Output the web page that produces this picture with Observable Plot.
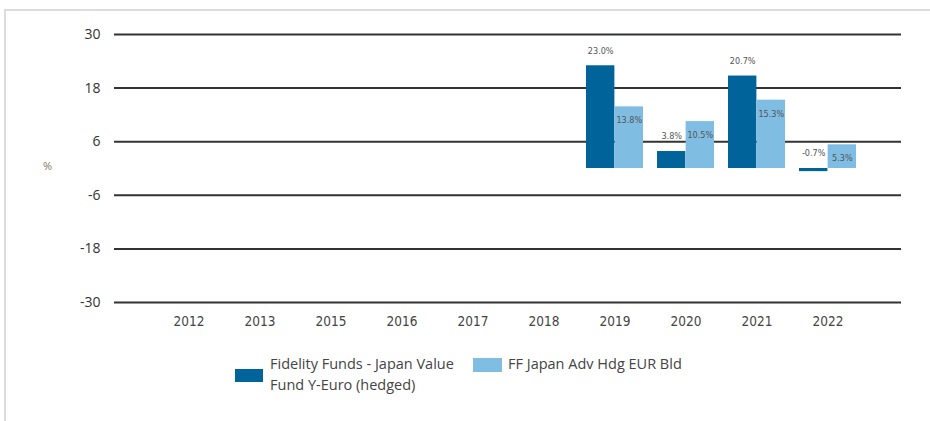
<!DOCTYPE html>
<html><head><meta charset="utf-8">
<script src="https://cdn.jsdelivr.net/npm/d3@7"></script>
<script src="https://cdn.jsdelivr.net/npm/@observablehq/plot@0.6"></script>
<style>
html,body{margin:0;padding:0;background:#fff}
body{width:930px;height:421px;overflow:hidden;position:relative;font-family:"Open Sans",sans-serif}
#frame{position:absolute;left:4px;top:9px;right:0;bottom:0;border-top:2px solid #dcdcdc;border-left:2px solid #dcdcdc}
#chart{position:absolute;left:0;top:0}
#unit{position:absolute;left:43px;top:158px;font-size:11px;color:#8a7468}
.lg{position:absolute;font-size:14.5px;color:#444;line-height:21px}
.sw{position:absolute}
</style></head>
<body>
<div id="frame"></div>
<div id="chart"></div>
<div id="unit">%</div>
<div id="legend"></div>
<script>
const years = ["2012","2013","2015","2016","2017","2018","2019","2020","2021","2022"];
const fundValues = [null,null,null,null,null,null,23.0,3.8,20.7,-0.7];
const indexValues = [null,null,null,null,null,null,13.8,10.5,15.3,5.3];
const seriesNames = ["Fidelity Funds - Japan Value Fund Y-Euro (hedged)", "FF Japan Adv Hdg EUR Bld"];
const seriesColors = ["#00639a", "#7fbde2"];
const yTicks = [30, 18, 6, -6, -18, -30];

const W = 930, H = 340, ML = 114, MR = 29, MT = 34, MB = 38;
const pIn = 0.2, pOut = 0.6;
const step = (W - ML - MR) / (years.length - pIn + 2 * pOut);
const half = step * (1 - pIn) / 2;

const fund = years.map((y, i) => ({year: y, value: fundValues[i]})).filter(d => d.value != null);
const idx = years.map((y, i) => ({year: y, value: indexValues[i]})).filter(d => d.value != null);
const fmt = d => d.value.toFixed(1) + "%";
const lblFont = '"Liberation Sans Narrow","DejaVu Sans Condensed","Roboto",sans-serif';

const chart = Plot.plot({
  width: W, height: H,
  marginLeft: ML, marginRight: MR, marginTop: MT, marginBottom: MB,
  style: {fontFamily: '"Open Sans",sans-serif', background: "transparent"},
  x: {type: "band", domain: years, paddingInner: pIn, paddingOuter: pOut, label: null, axis: null},
  y: {domain: [-30, 30], label: null, axis: null},
  marks: [
    Plot.ruleY(yTicks, {stroke: "#333", strokeWidth: 2}),
    Plot.barY(fund, {x: "year", y: "value", fill: seriesColors[0], insetRight: half}),
    Plot.barY(idx, {x: "year", y: "value", fill: seriesColors[1], insetLeft: half}),
    Plot.text(fund, {x: "year", y: d => Math.max(d.value, 0), text: fmt, dx: -half / 2, dy: -15, fontSize: 9, fill: "#555", fontFamily: lblFont}),
    Plot.text(idx, {x: "year", y: "value", text: fmt, dx: half / 2, dy: 13.5, fontSize: 9, fill: "#555", fontFamily: lblFont}),
    Plot.axisY(yTicks, {tickSize: 0, tickPadding: 14, fontSize: 14, color: "#333", label: null, tickFormat: d => String(d)}),
    Plot.axisX({tickSize: 0, tickPadding: 14, fontSize: 13.5, color: "#444", label: null, fontFamily: lblFont})
  ]
});
document.getElementById("chart").appendChild(chart);

const legend = document.getElementById("legend");
const items = [
  {sw: [235, 369, 28, 13], tx: [270, 353, 200]},
  {sw: [473, 358, 29, 14], tx: [508, 353, 230]}
];
seriesNames.forEach((name, i) => {
  const it = items[i];
  const s = document.createElement("div");
  s.className = "sw";
  Object.assign(s.style, {left: it.sw[0] + "px", top: it.sw[1] + "px", width: it.sw[2] + "px", height: it.sw[3] + "px", background: seriesColors[i]});
  legend.appendChild(s);
  const t = document.createElement("div");
  t.className = "lg";
  Object.assign(t.style, {left: it.tx[0] + "px", top: it.tx[1] + "px", width: it.tx[2] + "px"});
  t.textContent = name;
  legend.appendChild(t);
});
</script>
</body></html>
